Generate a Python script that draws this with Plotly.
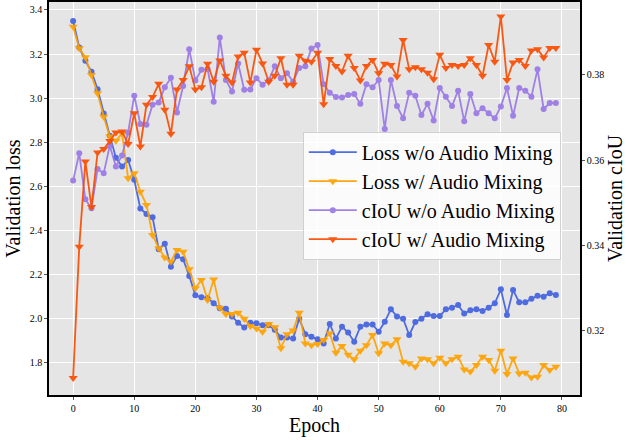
import plotly.graph_objects as go

epochs = list(range(80))

loss_wo_mix = [
    3.35, 3.23, 3.17, 3.12, 3.04, 2.93, 2.83, 2.73, 2.69, 2.72,
    2.63, 2.50, 2.475, 2.46, 2.315, 2.34, 2.236, 2.284, 2.27, 2.194,
    2.106, 2.097, 2.093, 2.07, 2.047, 2.045, 2.01, 1.982, 1.96, 1.982,
    1.979, 1.97, 1.97, 1.95, 1.915, 1.915, 1.91, 2.0, 1.93, 1.918,
    1.907, 1.888, 1.976, 1.91, 1.964, 1.937, 1.896, 1.964, 1.974, 1.974,
    1.941, 1.986, 2.043, 2.01, 2.0, 1.926, 1.985, 2.0, 2.02, 2.012,
    2.012, 2.043, 2.05, 2.062, 2.023, 2.038, 2.043, 2.035, 2.05, 2.07,
    2.133, 2.017, 2.13, 2.074, 2.074, 2.09, 2.104, 2.1, 2.115, 2.108,
]

loss_w_mix = [
    3.324, 3.226, 3.186, 3.105, 3.022, 2.916, 2.826, 2.807, 2.84, 2.637,
    2.66, 2.576, 2.516, 2.38, 2.319, 2.278, 2.259, 2.312, 2.304, 2.224,
    2.138, 2.176, 2.085, 2.178, 2.05, 2.021, 2.021, 2.027, 2.0, 1.967,
    1.956, 1.941, 1.976, 1.961, 1.866, 1.93, 1.946, 2.027, 1.888, 1.88,
    1.885, 1.903, 1.934, 1.846, 1.876, 1.836, 1.816, 1.855, 1.88, 1.926,
    1.843, 1.888, 1.88, 1.907, 1.805, 1.798, 1.782, 1.82, 1.816, 1.798,
    1.823, 1.798, 1.816, 1.828, 1.77, 1.76, 1.79, 1.828, 1.813, 1.764,
    1.855, 1.749, 1.82, 1.752, 1.755, 1.733, 1.737, 1.79, 1.767, 1.782,
]

ciou_wo_mix = [
    0.3552, 0.3616, 0.3508, 0.3487, 0.3579, 0.3569, 0.3634, 0.3585, 0.3611, 0.3665,
    0.3751, 0.3685, 0.3683, 0.3730, 0.3735, 0.3771, 0.3793, 0.3712, 0.3774, 0.3860,
    0.3787, 0.3812, 0.3814, 0.3737, 0.3888, 0.3788, 0.3761, 0.3827, 0.3765, 0.3766,
    0.3792, 0.3777, 0.3787, 0.3820, 0.3792, 0.3804, 0.3784, 0.3816, 0.3820, 0.3862,
    0.3870, 0.3778, 0.3758, 0.3748, 0.3747, 0.3753, 0.3755, 0.3732, 0.3778, 0.3771,
    0.3788, 0.3673, 0.3788, 0.3727, 0.3698, 0.3758, 0.3751, 0.3706, 0.3732, 0.3693,
    0.3769, 0.3749, 0.3727, 0.3763, 0.3691, 0.3755, 0.3710, 0.3722, 0.3710, 0.3698,
    0.3726, 0.3769, 0.3704, 0.3769, 0.3763, 0.3749, 0.3813, 0.3720, 0.3734, 0.3734,
]

ciou_w_mix = [
    0.3089, 0.3397, 0.3597, 0.3490, 0.3618, 0.3626, 0.3645, 0.3665, 0.3667, 0.3638,
    0.3710, 0.3632, 0.3730, 0.3748, 0.3779, 0.3718, 0.3662, 0.3766, 0.3788, 0.3820,
    0.3766, 0.3771, 0.3826, 0.3784, 0.3834, 0.3798, 0.3782, 0.3843, 0.3852, 0.3782,
    0.3859, 0.3827, 0.3784, 0.3798, 0.3839, 0.3777, 0.3777, 0.3845, 0.3833, 0.3831,
    0.3852, 0.3731, 0.3837, 0.3821, 0.3808, 0.3845, 0.3816, 0.3787, 0.3821, 0.3835,
    0.3804, 0.3826, 0.3823, 0.3796, 0.3882, 0.3813, 0.3818, 0.3813, 0.3805, 0.3790,
    0.3847, 0.3816, 0.3823, 0.3821, 0.3823, 0.3839, 0.3823, 0.3798, 0.3870, 0.3831,
    0.3937, 0.3788, 0.3829, 0.3835, 0.3821, 0.3857, 0.3860, 0.3841, 0.3863, 0.3863,
]

loss_ticks = [1.8, 2.0, 2.2, 2.4, 2.6, 2.8, 3.0, 3.2, 3.4]
ciou_ticks = [0.32, 0.34, 0.36, 0.38]
epoch_ticks = [0, 10, 20, 30, 40, 50, 60, 70, 80]

serif = "Liberation Serif, Times New Roman, serif"

series = [
    ("Loss w/o Audio Mixing", loss_wo_mix, "y", "#4361e0", "circle", 6),
    ("Loss w/ Audio Mixing", loss_w_mix, "y", "#ffa200", "triangle-down", 8),
    ("cIoU w/o Audio Mixing", ciou_wo_mix, "y2", "#9a78e6", "circle", 6),
    ("cIoU w/ Audio Mixing", ciou_w_mix, "y2", "#fa4d00", "triangle-down", 8),
]

fig = go.Figure()
for name, values, axis, color, symbol, size in series:
    fig.add_trace(go.Scatter(
        x=epochs,
        y=values,
        name=name,
        yaxis=axis,
        mode="lines+markers",
        line=dict(color=color, width=1.8),
        marker=dict(color=color, symbol=symbol, size=size),
        opacity=0.92,
    ))

fig.update_layout(
    width=626,
    height=440,
    margin=dict(l=49, r=46, t=2, b=45),
    paper_bgcolor="white",
    plot_bgcolor="#e5e5e5",
    font=dict(family=serif, color="black", size=10),
    showlegend=True,
    legend=dict(
        x=0.478, y=0.67, xanchor="left", yanchor="top",
        bgcolor="rgba(255,255,255,0.85)",
        bordercolor="#d0d0d0", borderwidth=1,
        font=dict(family=serif, size=20),
        tracegroupgap=0,
        itemwidth=48,
    ),
    xaxis=dict(
        range=[-3.95, 82.95],
        tickvals=epoch_ticks,
        automargin=False,
        showgrid=True, gridcolor="white", gridwidth=1,
        zeroline=False,
        showline=True, linecolor="black", linewidth=1.5, mirror=True,
        ticks="outside", ticklen=3, tickcolor="#555555",
        tickfont=dict(size=10),
        title=dict(text="Epoch", font=dict(size=20), standoff=2),
    ),
    yaxis=dict(
        range=[1.654, 3.436],
        tickvals=loss_ticks,
        tickformat=".1f",
        automargin=False,
        showgrid=True, gridcolor="white", gridwidth=1,
        zeroline=False,
        showline=True, linecolor="black", linewidth=1.5,
        ticks="outside", ticklen=3, tickcolor="#555555",
        tickfont=dict(size=10),
        title=dict(text="Validation loss", font=dict(size=20), standoff=4),
    ),
    yaxis2=dict(
        range=[0.3049, 0.3971],
        tickvals=ciou_ticks,
        tickformat=".2f",
        overlaying="y",
        side="right",
        automargin=False,
        showgrid=False,
        zeroline=False,
        showline=True, linecolor="black", linewidth=1.5,
        ticks="outside", ticklen=3, tickcolor="#555555",
        tickfont=dict(size=10),
        title=dict(text="Validation cIoU", font=dict(size=20), standoff=2),
    ),
)

# the page body has a default 8px margin; drop it so the figure sits at the corner
fig.write_html(
    "out.html",
    config={"displayModeBar": False},
    post_script="document.body.style.margin='0';",
)
